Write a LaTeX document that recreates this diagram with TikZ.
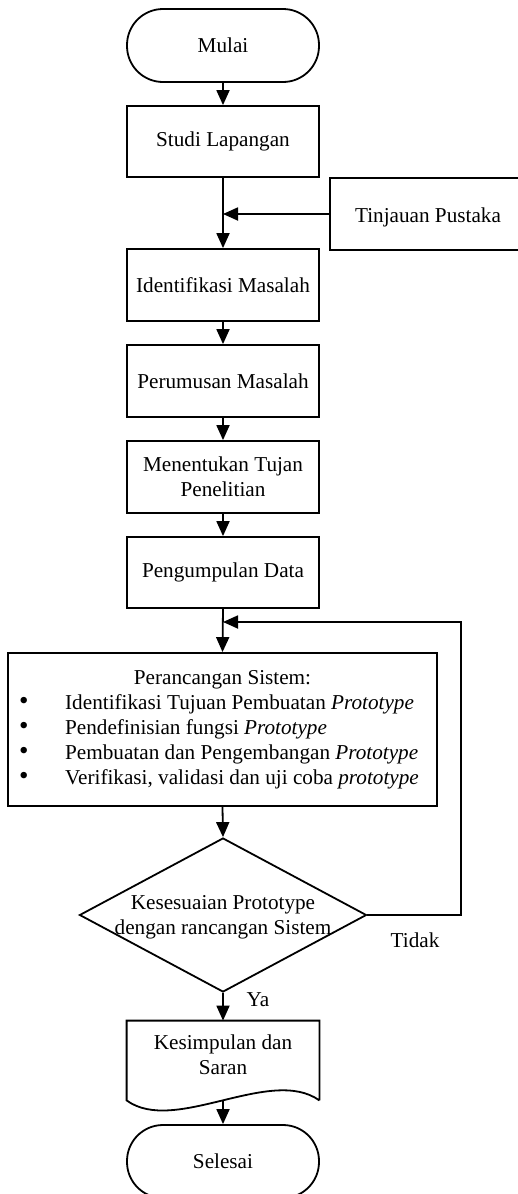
\documentclass[tikz,border=0pt]{standalone}
\usepackage{fontspec}
\setmainfont{Liberation Serif}
\usetikzlibrary{arrows.meta,shapes.geometric}
\newcommand{\bigbul}{{\fontsize{13.5}{12.6}\selectfont\textbullet}}
\begin{document}
\begin{tikzpicture}[x=0.5pt,y=-0.5pt,
  every node/.style={font=\fontsize{10.6}{12.6}\selectfont},
  proc/.style={draw, line width=0.9pt, minimum width=96pt, minimum height=36pt, inner sep=1pt, align=center},
  term/.style={proc, rounded corners=18pt, minimum height=36.5pt},
  arr/.style={line width=0.9pt, -{Triangle[length=7.5pt,width=6.5pt]}},
  ln/.style={line width=0.9pt},
  lbl/.style={inner sep=0pt}]
\useasboundingbox (0,0) rectangle (518,1194);

\node[term] (start) at (223,45.5) {Mulai};
\node[proc, minimum height=35.5pt] (studi) at (223,141.5) {Studi Lapangan};
\node[proc, minimum width=98pt] (tin) at (428,214) {\raisebox{-4.3pt}[0pt][0pt]{Tinjauan Pustaka}};
\node[proc] (ident) at (223,285) {Identifikasi Masalah};
\node[proc] (perum) at (223,381) {Perumusan Masalah};
\node[proc] (menent) at (223,477) {Menentukan Tujan\\Penelitian};
\node[proc, minimum height=35.5pt] (kumpul) at (223,572.5) {Pengumpulan Data};
\node[proc, minimum width=214.5pt, minimum height=76.5pt, inner sep=0pt] (ranc) at (222.5,729.5)
  {\begin{tabular}{@{}p{23pt}@{}l@{\hspace{3.5pt}}}
   \multicolumn{2}{c}{Perancangan Sistem:}\\
   \bigbul & Identifikasi Tujuan Pembuatan \textit{Prototype}\\
   \bigbul & Pendefinisian fungsi \textit{Prototype}\\
   \bigbul & Pembuatan dan Pengembangan \textit{Prototype}\\
   \bigbul & Verifikasi, validasi dan uji coba \textit{prototype}
   \end{tabular}};
\node[draw, diamond, line width=0.9pt, minimum width=143.5pt, minimum height=77pt, inner sep=0pt] (dec) at (223,915)
  {\makebox[0pt]{\raisebox{-3.7pt}[0pt][0pt]{\begin{tabular}{@{}c@{}}Kesesuaian Prototype\\dengan rancangan Sistem\end{tabular}}}};
\node[minimum width=96pt, minimum height=39.5pt, inner sep=0pt] (doc) at (223,1060.5)
  {\raisebox{-1pt}[0pt][0pt]{\begin{tabular}{@{}c@{}}Kesimpulan dan\\Saran\end{tabular}}};
\draw[ln] (doc.south east) -- (doc.north east) -- (doc.north west) -- (doc.south west)
  .. controls +(48,35) and +(-49,-35) .. (doc.south east);
\node[term] (end) at (223,1161.5) {Selesai};

\node[lbl] (ya) at (258,1000) {Ya};
\node[lbl] (tidak) at (415,940) {Tidak};

\coordinate (tj) at (223,214);
\coordinate (lc) at (461,622);
\coordinate (loopin) at (223,622);

\draw[arr] (start.south) -- (studi.north);
\draw[arr] (studi.south) -- (ident.north);
\draw[arr] (tin.west) -- (tj);
\draw[arr] (ident.south) -- (perum.north);
\draw[arr] (perum.south) -- (menent.north);
\draw[arr] (menent.south) -- (kumpul.north);
\draw[arr] (kumpul.south) -- (ranc.north);
\draw[arr] (dec.east) -| (lc) -- (loopin);
\draw[arr] (ranc.south) -- (dec.north);
\draw[arr] (dec.south) -- (doc.north);
\draw[arr] (doc.south) -- (end.north);
\end{tikzpicture}
\end{document}
